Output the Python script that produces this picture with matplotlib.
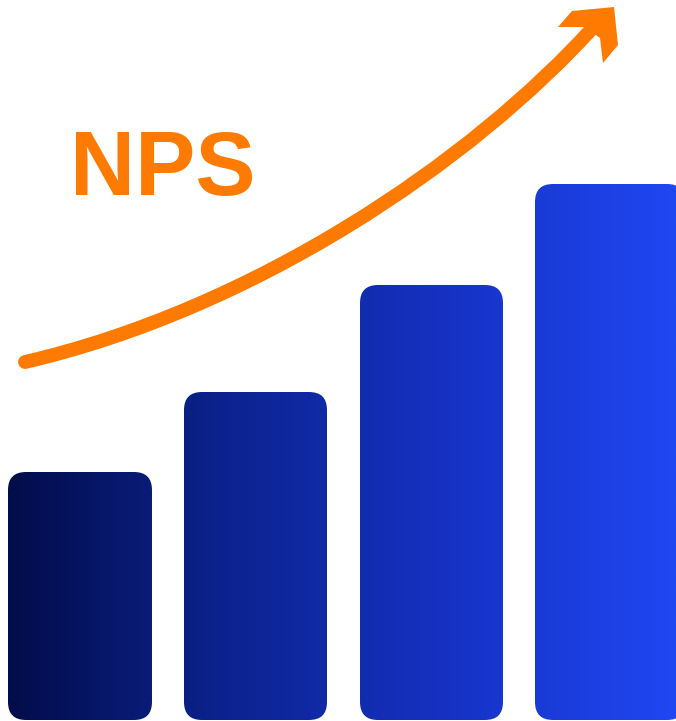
import matplotlib
matplotlib.use("Agg")
import matplotlib.pyplot as plt
import numpy as np
from matplotlib.patches import FancyBboxPatch, Polygon, PathPatch
from matplotlib.path import Path
from matplotlib.colors import LinearSegmentedColormap

W, H = 676, 721

# bar data (pixel-ish units, measured from bottom)
bar_left = [8, 184, 360, 535]
bar_width = [144, 143, 143, 150]
bar_height = [248, 328, 435, 536]
bar_bottom = 1

# arrow curve control points (x, y from top)
curve_pts = [(25, 362), (250, 310), (470, 165), (598, 22)]
head_pts = [(558, 27), (572, 11), (614, 7), (618, 45), (603, 63), (600, 38), (585, 27)]

orange = "#ff7a00"
blue_cmap = LinearSegmentedColormap.from_list("nps", ["#020c48", "#0c238f", "#1632c4", "#1f47f2"])

fig = plt.figure(figsize=(W / 100, H / 100), dpi=100)
ax = fig.add_axes([0, 0, 1, 1])
ax.set_xlim(0, W)
ax.set_ylim(0, H)
ax.axis("off")

grad = np.linspace(0, 1, 256).reshape(1, -1)
for x, w, h in zip(bar_left, bar_width, bar_height):
    box = FancyBboxPatch((x, bar_bottom), w, h, boxstyle="round,pad=0,rounding_size=18",
                         facecolor="none", edgecolor="none")
    ax.add_patch(box)
    img = ax.imshow(grad, cmap=blue_cmap, extent=[0, W, 0, H], aspect="auto", interpolation="bilinear")
    img.set_clip_path(box)

# curved arrow
verts = [(px, H - py) for px, py in curve_pts]
path = Path(verts, [Path.MOVETO, Path.CURVE4, Path.CURVE4, Path.CURVE4])
ax.add_patch(PathPatch(path, facecolor="none", edgecolor=orange, lw=10, capstyle="round"))
ax.add_patch(Polygon([(px, H - py) for px, py in head_pts], closed=True, facecolor=orange, edgecolor="none"))

ax.text(70, H - 195, "NPS", color=orange, fontsize=65, fontweight="bold",
        family="Liberation Sans", ha="left", va="baseline")

ax.set_xlim(0, W)
ax.set_ylim(0, H)
fig.savefig("out.png", dpi=100)
